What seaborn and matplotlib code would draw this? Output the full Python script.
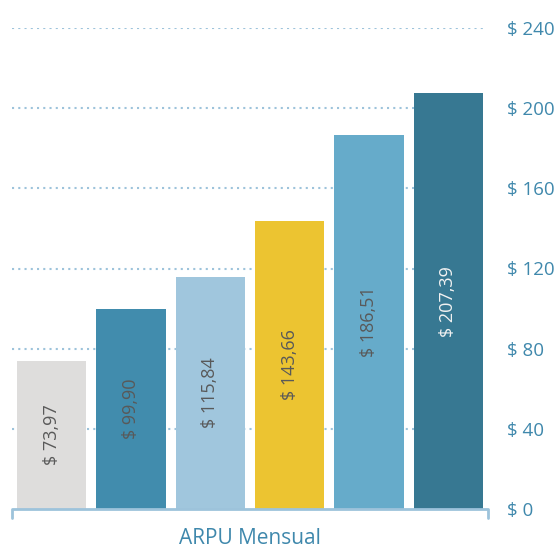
import seaborn as sns
import matplotlib.pyplot as plt

# Données
planos = ['Plano 1', 'Plano 2', 'Plano 3', 'Plano 4', 'Plano 5', 'Plano 6']
arpu = [73.97, 99.90, 115.84, 143.66, 186.51, 207.39]
cores = ['#DEDDDC', '#418CAD', '#A0C6DD', '#ECC431', '#66ABCA', '#377892']
rotulos = ['$ 73,97', '$ 99,90', '$ 115,84', '$ 143,66', '$ 186,51', '$ 207,39']
cor_rotulos = ['#595959', '#595959', '#595959', '#595959', '#595959', '#F2F2F2']
yticks = [0, 40, 80, 120, 160, 200, 240]

sns.set_style('white')
plt.rcParams['font.family'] = ['Open Sans', 'DejaVu Sans']

azul = '#3F88AC'
linha = '#9DC3DB'

fig = plt.figure(figsize=(5.57, 5.53), dpi=100)
ax = fig.add_axes([12 / 557, 44 / 553, 476 / 557, 481 / 553])

sns.barplot(x=planos, y=arpu, hue=planos, palette=cores, width=0.87,
            saturation=1, linewidth=0, legend=False, ax=ax, zorder=3)

ax.set_ylim(0, 240)
ax.set_xlim(-0.5, 5.5)

# grades pontilhadas
for v in yticks[1:]:
    ax.axhline(v, xmax=0.99, color=linha, linestyle=(0, (1, 2)),
               linewidth=1.5, zorder=1)

# eixo y à direita
ax.yaxis.tick_right()
ax.set_yticks(yticks)
ax.set_yticklabels([f'$ {v}' for v in yticks], color=azul, fontsize=13.5)
ax.tick_params(axis='y', length=0, pad=14)
ax.set_xticks([])
for s in ax.spines.values():
    s.set_visible(False)

# colchete inferior
ax.plot([0, 0, 1, 1], [-0.018, 0, 0, -0.018], transform=ax.transAxes,
        color=linha, linewidth=2, clip_on=False, zorder=4)

# rótulos das barras
for i, (v, t, c) in enumerate(zip(arpu, rotulos, cor_rotulos)):
    ax.text(i, v / 2, t, rotation=90, ha='center', va='center',
            fontsize=13, color=c, zorder=5)

ax.set_xlabel('ARPU Mensual', color=azul, fontsize=15, labelpad=14)

fig.savefig('out.png', dpi=100)
